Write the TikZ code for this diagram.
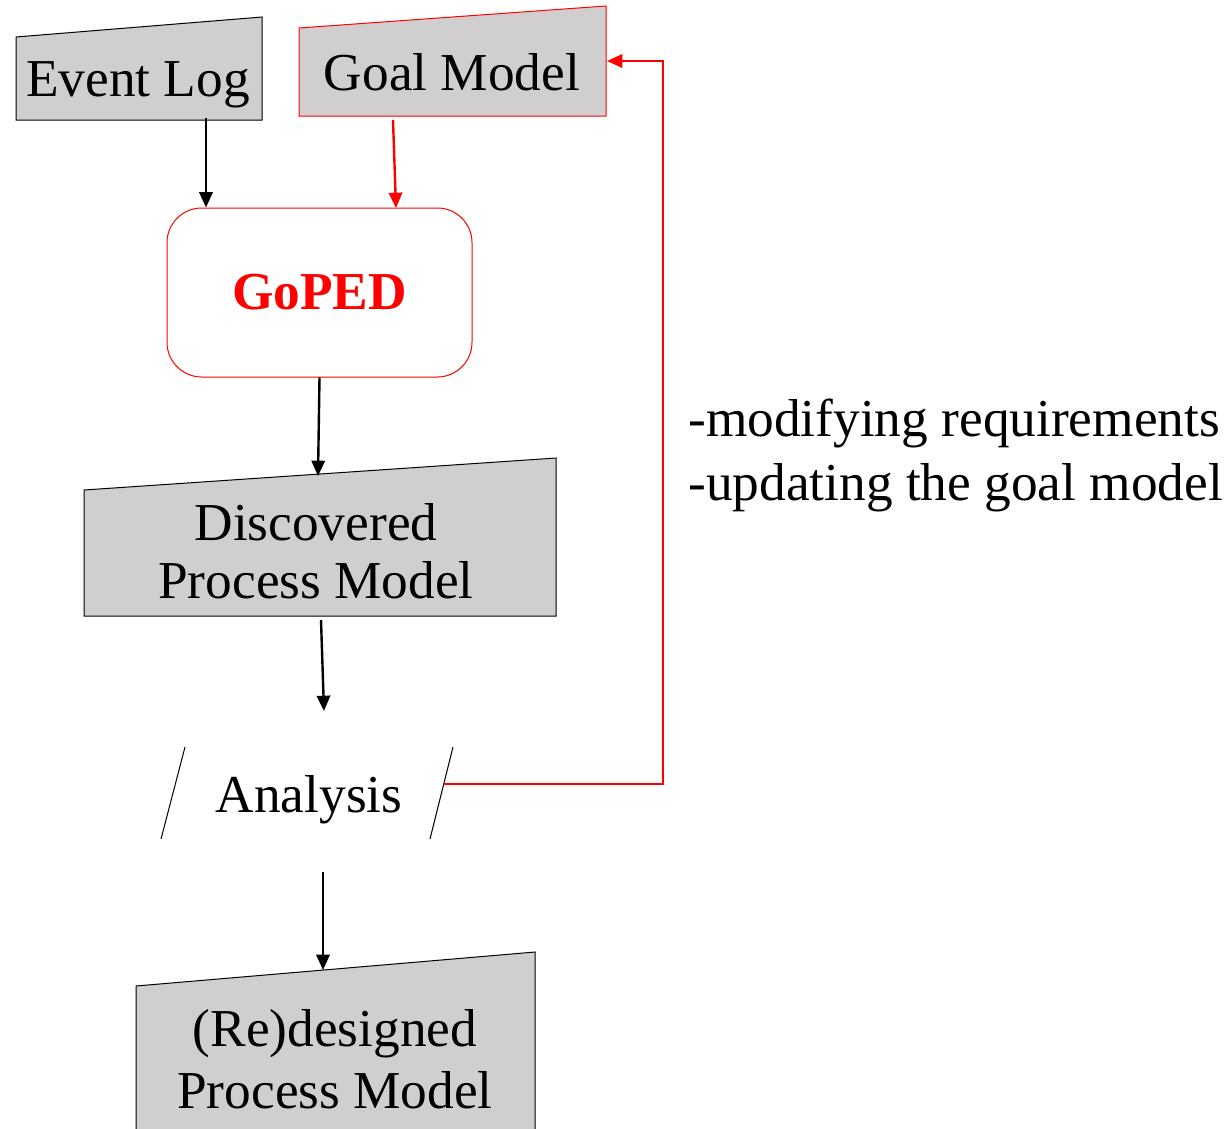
\documentclass[tikz,border=0pt]{standalone}
\usepackage{fontspec}
\setmainfont{Liberation Serif}
\usetikzlibrary{arrows.meta}

\definecolor{boxgray}{RGB}{208,206,207}

\tikzset{
  flowarrow/.style={line width=1.8pt,-{Triangle[length=11.5pt,width=10pt]}},
  datashape/.style={draw=black,line width=0.75pt,fill=boxgray},
  boxtext/.style={inner sep=0pt,font=\fontsize{40}{44}\selectfont},
  minerbox/.style={draw=red,line width=0.75pt,rounded corners=26pt,
    minimum width=228.75pt,minimum height=126.75pt,inner sep=0pt,
    text=red,font=\fontsize{40}{44}\selectfont\bfseries},
}

\begin{document}
\begin{tikzpicture}[x=0.75pt,y=0.75pt,yscale=-1,xscale=1]
    \useasboundingbox (0,0) rectangle (1227,1128);
    % inputs
    \draw [datashape] (16,37) -- (262,17) -- (262,120) -- (16,120) -- cycle ;
    \node [boxtext,anchor=base] (evlog) at (138,96) {Event Log};
    \draw [datashape,draw=red] (299,28) -- (606,6) -- (606,116) -- (299,116) -- cycle ;
    \node [boxtext,anchor=base] (goal) at (452,90) {Goal Model};
    % discovery
    \node [minerbox] (goped) at (319.5,292.5) {GoPED};
    \draw [datashape] (84,490) -- (556,458) -- (556,616) -- (84,616) -- cycle ;
    \node [boxtext,anchor=base,align=center,font=\fontsize{40}{43}\selectfont] (disc) at (316,598) {Discovered\\Process Model};
    % analysis
    \draw [line width=0.75pt] (185,747) -- (161,839) ;
    \draw [line width=0.75pt] (453,747) -- (430,839) ;
    \node [boxtext,anchor=base] (anl) at (309,812) {Analysis};
    \draw [datashape] (136,986) -- (535,952) -- (535,1140) -- (136,1140) -- cycle ;
    \node [boxtext,anchor=base,align=center,font=\fontsize{40}{46.5}\selectfont] (redes) at (335,1108) {(Re)designed\\Process Model};
    \node [boxtext,anchor=base west,align=left,font=\fontsize{40}{47.5}\selectfont] (changes) at (688,500) {-modifying requirements\\-updating the goal model};
    % connector ends
    \coordinate (evlog-out) at (206,118);
    \coordinate (goal-out) at (393,120);
    \coordinate (goal-in) at (396,208);
    \coordinate (disc-in) at (318,476);
    \coordinate (disc-out) at (321,620);
    \coordinate (anl-in) at (324,711);
    \coordinate (anl-out) at (323,872);
    \coordinate (redes-in) at (323,970);
    \coordinate (anl-east) at (444,784);
    \coordinate (goal-east) at (607,61);
    % connectors
    \draw [flowarrow] (evlog-out) -- (goped.north -| evlog-out) ;
    \draw [flowarrow,red] (goal-out) -- (goal-in) ;
    \draw [flowarrow] (goped.south) -- (disc-in) ;
    \draw [flowarrow] (disc-out) -- (anl-in) ;
    \draw [flowarrow] (anl-out) -- (redes-in) ;
    \draw [flowarrow,red] (anl-east) -- (663,784) |- (goal-east) ;
\end{tikzpicture}
\end{document}
